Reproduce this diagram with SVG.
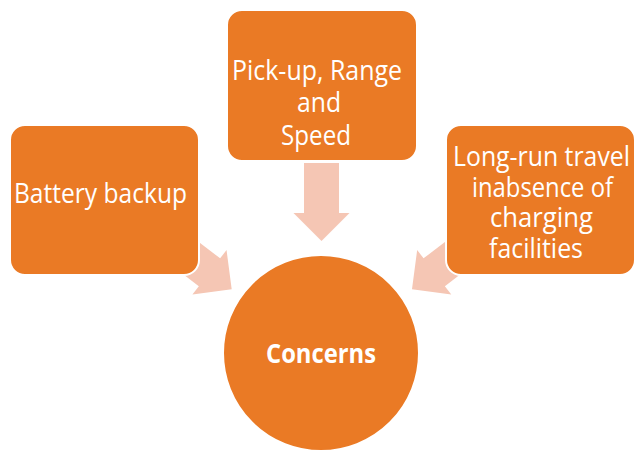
<svg xmlns="http://www.w3.org/2000/svg" width="636" height="451" viewBox="0 0 636 451">
<defs>
<style>
.box{fill:#EA7A25;stroke:#FFFFFF;stroke-width:2}
.arrow{fill:#F5C6B4}
.t{font-family:"Open Sans","Noto Sans",sans-serif;font-size:26.5px;fill:#FFFFFF}
.tb{font-family:"Open Sans","Noto Sans",sans-serif;font-size:27px;font-weight:bold;fill:#FFFFFF}
</style>
<path id="arr" d="M0,0 L-28,-28 L-28,-17.5 L-78,-17.5 L-78,17.5 L-28,17.5 L-28,28 Z"/>
</defs>
<rect width="636" height="451" fill="#FFFFFF"/>
<g id="connectors">
<use href="#arr" class="arrow" transform="translate(321.5,241) rotate(90)"/>
<use href="#arr" class="arrow" transform="translate(231.7,289.3) rotate(37.5)"/>
<use href="#arr" class="arrow" transform="translate(412,289.3) rotate(142.5)"/>
</g>
<g id="battery">
<rect class="box" x="10" y="125" width="189" height="150" rx="15"/>
<text class="t" x="14" y="203" textLength="173" lengthAdjust="spacingAndGlyphs">Battery backup</text>
</g>
<g id="pickup">
<rect class="box" x="227" y="10" width="190" height="151" rx="15"/>
<text class="t" x="232" y="80" textLength="170" lengthAdjust="spacingAndGlyphs">Pick-up, Range</text>
<text class="t" x="297" y="112" textLength="44" lengthAdjust="spacingAndGlyphs">and</text>
<text class="t" x="281" y="145" textLength="70" lengthAdjust="spacingAndGlyphs">Speed</text>
</g>
<g id="longrun">
<rect class="box" x="446" y="125" width="189" height="150" rx="15"/>
<text class="t" x="453" y="166" textLength="177" lengthAdjust="spacingAndGlyphs">Long-run travel</text>
<text class="t" x="472" y="197" textLength="141" lengthAdjust="spacingAndGlyphs">inabsence of</text>
<text class="t" x="490" y="227" textLength="103" lengthAdjust="spacingAndGlyphs">charging</text>
<text class="t" x="489" y="258" textLength="94" lengthAdjust="spacingAndGlyphs">facilities</text>
</g>
<g id="concerns">
<circle class="box" cx="321" cy="353" r="98"/>
<text class="tb" x="266" y="363" textLength="110" lengthAdjust="spacingAndGlyphs">Concerns</text>
</g>
</svg>
